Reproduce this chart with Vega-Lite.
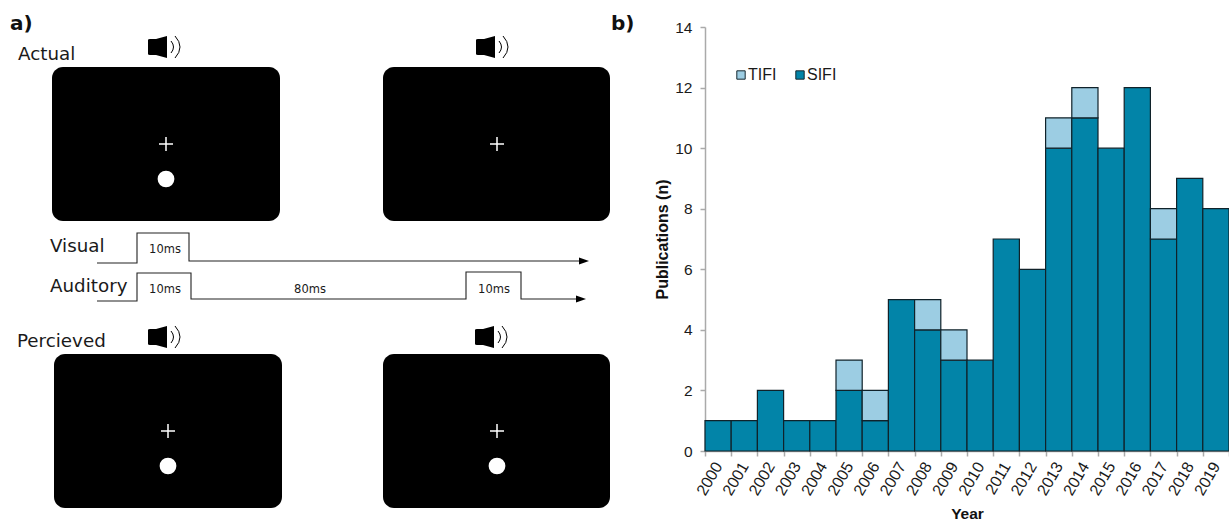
{
"$schema":"https://vega.github.io/schema/vega-lite/v6.json",
"width":1229,"height":521,"padding":0,"autosize":{"type":"none"},"background":"white",
"config":{"view":{"stroke":null}},
"resolve":{"scale":{"x":"independent","y":"independent"}},
"layer":[
{
 "encoding":{
  "x":{"field":"x","type":"quantitative","axis":null,"scale":{"domain":[0,1229],"range":[0,1229],"nice":false,"zero":false}},
  "y":{"field":"y","type":"quantitative","axis":null,"scale":{"domain":[0,521],"range":[0,521],"nice":false,"zero":false}}
 },
 "layer":[
 {"data":{"values":[{"x":52,"x2":280,"y":67,"y2":221},{"x":383,"x2":610,"y":67,"y2":221},{"x":54,"x2":282,"y":354,"y2":508},{"x":383,"x2":610,"y":354,"y2":508}]},
  "mark":{"type":"rect","color":"black","cornerRadius":11},
  "encoding":{"x2":{"field":"x2"},"y2":{"field":"y2"}}},
 {"data":{"values":[{"x":166,"y":144},{"x":497,"y":144},{"x":168,"y":431},{"x":497,"y":431}]},
  "mark":{"type":"point","shape":"M-7,0H7M0,-7V7","size":4,"filled":false,"stroke":"white","strokeWidth":1.5,"opacity":1}},
 {"data":{"values":[{"x":166,"y":179},{"x":168,"y":466},{"x":497,"y":466}]},
  "mark":{"type":"point","shape":"circle","size":280,"filled":true,"color":"white","opacity":1}},
 {"data":{"values":[{"x":165,"y":47},{"x":493,"y":47},{"x":165,"y":337},{"x":492,"y":337}]},
  "mark":{"type":"point","shape":"M-17,-7Q-17,-8 -15,-8H-9L2,-11V11L-9,8H-15Q-17,8 -17,7Z","size":4,"filled":true,"color":"black","opacity":1}},
 {"data":{"values":[{"x":165,"y":47},{"x":493,"y":47},{"x":165,"y":337},{"x":492,"y":337}]},
  "mark":{"type":"point","shape":"M6,-6Q11,0 6,6M10,-11Q20,0 10,11","size":4,"filled":false,"stroke":"black","strokeWidth":1,"opacity":1}},
 {"data":{"values":[
  {"s":"v","i":1,"x":97,"y":263},{"s":"v","i":2,"x":137,"y":263},{"s":"v","i":3,"x":137,"y":233},{"s":"v","i":4,"x":189,"y":233},{"s":"v","i":5,"x":189,"y":261},{"s":"v","i":6,"x":580,"y":261},
  {"s":"a","i":1,"x":97,"y":301},{"s":"a","i":2,"x":137,"y":301},{"s":"a","i":3,"x":137,"y":273},{"s":"a","i":4,"x":191,"y":273},{"s":"a","i":5,"x":191,"y":299},{"s":"a","i":6,"x":466,"y":299},{"s":"a","i":7,"x":466,"y":272},{"s":"a","i":8,"x":521,"y":272},{"s":"a","i":9,"x":521,"y":299},{"s":"a","i":10,"x":578,"y":299}
 ]},
  "mark":{"type":"line","color":"#222222","strokeWidth":1.1},
  "encoding":{"detail":{"field":"s"},"order":{"field":"i"}}},
 {"data":{"values":[{"x":584,"y":261},{"x":581,"y":299}]},
  "mark":{"type":"point","shape":"M-5,-3.5L5,0L-5,3.5Z","size":4,"filled":true,"color":"black","opacity":1}},
 {"data":{"values":[{"x":18,"y":54.5,"t":"Actual"},{"x":50,"y":247,"t":"Visual"},{"x":50,"y":287,"t":"Auditory"},{"x":17,"y":341.5,"t":"Percieved"}]},
  "mark":{"type":"text","font":"DejaVu Sans","fontSize":18.3,"align":"left","baseline":"middle","color":"#1a1a1a"},
  "encoding":{"text":{"field":"t"}}},
 {"data":{"values":[{"x":165,"y":250,"t":"10ms"},{"x":165,"y":290,"t":"10ms"},{"x":310,"y":290,"t":"80ms"},{"x":494,"y":290,"t":"10ms"}]},
  "mark":{"type":"text","font":"DejaVu Sans","fontSize":11.5,"align":"center","baseline":"middle","color":"#1a1a1a"},
  "encoding":{"text":{"field":"t"}}},
 {"data":{"values":[{"x":10,"y":24,"t":"a)"},{"x":611,"y":24,"t":"b)"}]},
  "mark":{"type":"text","font":"DejaVu Sans","fontWeight":"bold","fontSize":20,"align":"left","baseline":"middle","color":"#111111"},
  "encoding":{"text":{"field":"t"}}}
 ]
},
{
 "data":{"values":[
 {"year":"2000","series":"SIFI","n":1},{"year":"2001","series":"SIFI","n":1},{"year":"2002","series":"SIFI","n":2},{"year":"2003","series":"SIFI","n":1},{"year":"2004","series":"SIFI","n":1},{"year":"2005","series":"SIFI","n":2},{"year":"2005","series":"TIFI","n":1},{"year":"2006","series":"SIFI","n":1},{"year":"2006","series":"TIFI","n":1},{"year":"2007","series":"SIFI","n":5},{"year":"2008","series":"SIFI","n":4},{"year":"2008","series":"TIFI","n":1},{"year":"2009","series":"SIFI","n":3},{"year":"2009","series":"TIFI","n":1},{"year":"2010","series":"SIFI","n":3},{"year":"2011","series":"SIFI","n":7},{"year":"2012","series":"SIFI","n":6},{"year":"2013","series":"SIFI","n":10},{"year":"2013","series":"TIFI","n":1},{"year":"2014","series":"SIFI","n":11},{"year":"2014","series":"TIFI","n":1},{"year":"2015","series":"SIFI","n":10},{"year":"2016","series":"SIFI","n":12},{"year":"2017","series":"SIFI","n":7},{"year":"2017","series":"TIFI","n":1},{"year":"2018","series":"SIFI","n":9},{"year":"2019","series":"SIFI","n":8}
 ]},
 "mark":{"type":"bar","stroke":"#10222a","strokeWidth":1.2,"width":{"band":1}},
 "encoding":{
  "x":{"field":"year","type":"nominal","scale":{"range":[705,1229],"paddingInner":0,"paddingOuter":0},
   "axis":{"title":"Year","titleFont":"Liberation Sans","titleFontWeight":"bold","titleFontSize":15.5,"titleColor":"#111111","titlePadding":8.5,"offset":-70,"labelAngle":-60,"labelFont":"Liberation Sans","labelFontSize":16,"labelColor":"#1a1a1a","labelPadding":7,"tickBand":"extent","tickColor":"#aaaaaa","tickSize":5,"tickWidth":1.5,"domainColor":"#aaaaaa","domainWidth":1.5,"grid":false,"labelOverlap":false}},
  "y":{"field":"n","type":"quantitative","stack":"zero","scale":{"domain":[0,14],"range":[451,27],"nice":false},
   "axis":{"title":"Publications (n)","titleFont":"Liberation Sans","titleFontWeight":"bold","titleFontSize":16,"titleColor":"#111111","titlePadding":4,"offset":-705,"values":[0,2,4,6,8,10,12,14],"labelFont":"Liberation Sans","labelFontSize":15.5,"labelColor":"#1a1a1a","labelPadding":8,"tickColor":"#aaaaaa","tickSize":5,"tickWidth":1.5,"domainColor":"#aaaaaa","domainWidth":1.5,"grid":false}},
  "color":{"field":"series","type":"nominal","scale":{"domain":["TIFI","SIFI"],"range":["#9ccde3","#0284a8"]},
   "legend":{"title":null,"orient":"none","legendX":733,"legendY":67,"direction":"horizontal","symbolType":"square","symbolSize":70,"symbolStrokeColor":"#14262e","symbolStrokeWidth":1,"labelFont":"Liberation Sans","labelFontSize":16,"labelColor":"#1a1a1a","labelOffset":-1,"columnPadding":15}},
  "order":{"field":"series","sort":"ascending"}
 }
}
]
}
